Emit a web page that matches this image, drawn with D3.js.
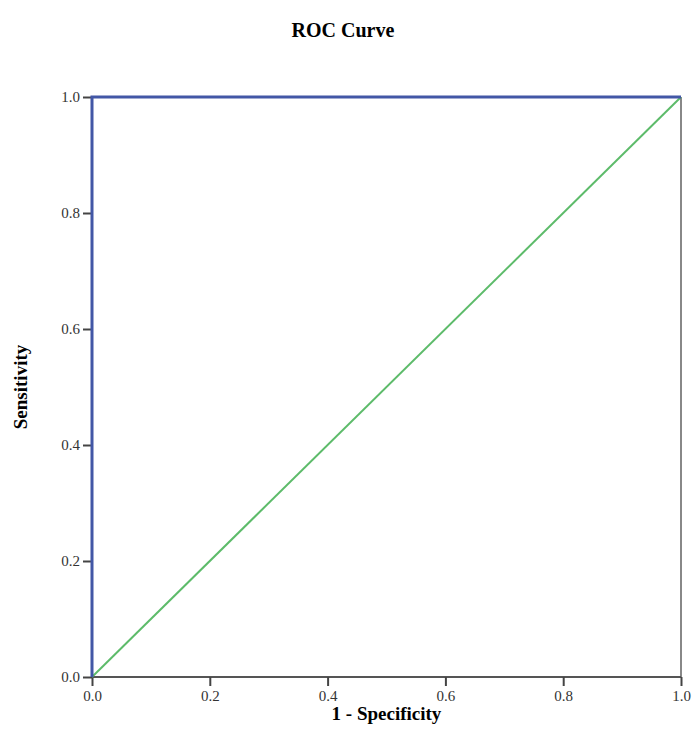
<!DOCTYPE html>
<html>
<head>
<meta charset="utf-8">
<script src="https://cdn.jsdelivr.net/npm/d3@7"></script>
<style>
  body { margin: 0; background: #fff; }
  svg text { font-family: 'Liberation Serif', 'Times New Roman', serif; }
</style>
</head>
<body>
<svg id="chart"></svg>
<script>
const rocFpr = [0, 0, 1];
const rocTpr = [0, 1, 1];
const refFpr = [0, 1];
const refTpr = [0, 1];
const tickValues = [0, 0.2, 0.4, 0.6, 0.8, 1.0];

const width = 698, height = 754;
const margin = { top: 97, right: 17, bottom: 77, left: 92 };

const svg = d3.select('#chart').attr('width', width).attr('height', height);

const x = d3.scaleLinear().domain([0, 1]).range([margin.left, width - margin.right]);
const y = d3.scaleLinear().domain([0, 1]).range([height - margin.bottom, margin.top]);

svg.append('text')
  .attr('x', 343).attr('y', 37)
  .attr('text-anchor', 'middle')
  .attr('font-weight', 'bold')
  .attr('font-size', 20)
  .text('ROC Curve');

// right frame
svg.append('line')
  .attr('x1', x(1)).attr('x2', x(1))
  .attr('y1', y(0)).attr('y2', y(1))
  .attr('stroke', '#888').attr('stroke-width', 2);

const xAxis = svg.append('g')
  .attr('transform', `translate(0,${y(0)})`)
  .call(d3.axisBottom(x).tickValues(tickValues).tickFormat(d3.format('.1f')).tickSize(9).tickPadding(4));
const yAxis = svg.append('g')
  .attr('transform', `translate(${x(0)},0)`)
  .call(d3.axisLeft(y).tickValues(tickValues).tickFormat(d3.format('.1f')).tickSize(9).tickPadding(3));

[xAxis, yAxis].forEach(a => {
  a.select('.domain').attr('stroke', '#555').attr('stroke-width', 2);
  a.selectAll('.tick line').attr('stroke', '#444').attr('stroke-width', 2);
  a.selectAll('.tick text')
    .attr('font-family', null)
    .attr('font-size', 15)
    .attr('fill', '#333');
});
xAxis.select('.domain').attr('d', `M${x(0)},0H${x(1)}`);
yAxis.select('.domain').attr('d', `M0,${y(0)}V${y(1)}`);

const line = d3.line().x(d => x(d[0])).y(d => y(d[1]));

svg.append('path')
  .datum(refFpr.map((v, i) => [v, refTpr[i]]))
  .attr('d', line)
  .attr('fill', 'none')
  .attr('stroke', '#5dbb6a')
  .attr('stroke-width', 2);

svg.append('path')
  .datum(rocFpr.map((v, i) => [v, rocTpr[i]]))
  .attr('d', line)
  .attr('fill', 'none')
  .attr('stroke', '#4257a6')
  .attr('stroke-width', 3);

svg.append('text')
  .attr('x', (x(0) + x(1)) / 2).attr('y', 720)
  .attr('text-anchor', 'middle')
  .attr('font-weight', 'bold')
  .attr('font-size', 19)
  .text('1 - Specificity');

svg.append('text')
  .attr('transform', `translate(27,${(y(0) + y(1)) / 2}) rotate(-90)`)
  .attr('text-anchor', 'middle')
  .attr('font-weight', 'bold')
  .attr('font-size', 19)
  .text('Sensitivity');
</script>
</body>
</html>
